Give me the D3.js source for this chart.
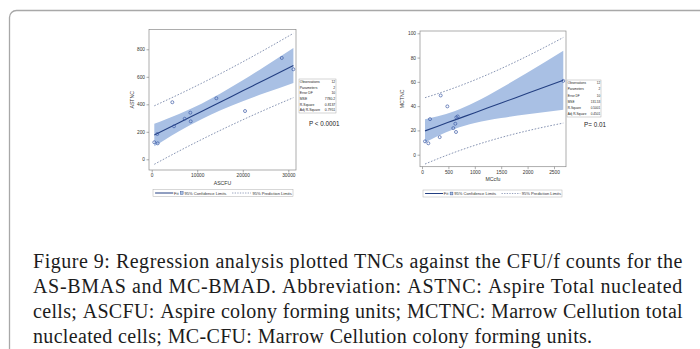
<!DOCTYPE html>
<html>
<head>
<meta charset="utf-8">
<script src="https://cdn.jsdelivr.net/npm/d3@7"></script>
<style>
  html, body { margin: 0; padding: 0; background: #fff; }
  svg { display: block; }
</style>
</head>
<body>
<div id="chart"></div>
<script>
// ---- left panel: ASCFU vs ASTNC ----
const asCfu = [570, 1320, 1230, 4530, 4900, 7250, 8490, 8570, 14200, 20500, 28570, 31120];
const asTnc = [124, 116, 184, 415, 240, 295, 339, 276, 444, 351, 737, 655];
const asGridX = [570, 3000, 6000, 10937, 15000, 20000, 25000, 31120];
const asFit = [176.3, 216.6, 266.3, 348.0, 415.3, 498.1, 580.9, 682.3];
const asClmLo = [94.9, 144.4, 203.1, 291.3, 354.1, 421.8, 483.5, 555.2];
const asClmHi = [257.7, 288.8, 329.5, 404.7, 476.5, 574.4, 678.3, 809.4];
const asPlmLo = [-36.4, 7.2, 59.9, 143.5, 209.5, 287.3, 361.6, 448.3];
const asPlmHi = [389.0, 426.0, 472.7, 552.5, 621.1, 708.9, 800.2, 916.3];
const asXTicks = [0, 10000, 20000, 30000];
const asYTicks = [0, 200, 400, 600, 800];
const asStatValues = ['12', '2', '10', '7780.2', '0.8137', '0.7951'];

// ---- right panel: MCcfu vs MCTNC ----
const mcCfu = [57, 120, 152, 335, 354, 480, 593, 631, 644, 650, 676, 2676];
const mcTnc = [11.0, 9.4, 29.3, 14.5, 48.8, 39.8, 21.9, 25.5, 18.7, 30.7, 31.5, 60.8];
const mcGridX = [57, 300, 614, 1000, 1500, 2000, 2676];
const mcFit = [19.63, 23.49, 28.49, 34.63, 42.59, 50.54, 61.30];
const mcClmLo = [9.96, 15.32, 21.11, 26.08, 30.21, 33.34, 37.03];
const mcClmHi = [29.30, 31.66, 35.87, 43.18, 54.97, 67.74, 85.57];
const mcPlmLo = [-7.69, -3.34, 1.90, 7.69, 14.20, 19.74, 26.06];
const mcPlmHi = [46.95, 50.32, 55.08, 61.57, 70.98, 81.34, 96.54];
const mcXTicks = [0, 500, 1000, 1500, 2000, 2500];
const mcYTicks = [0, 20, 40, 60, 80, 100];
const mcStatValues = ['12', '2', '10', '131.53', '0.5001', '0.4501'];

const statLabels = ['Observations', 'Parameters', 'Error DF', 'MSE', 'R-Square', 'Adj R-Square'];
const legendLabels = ['Fit', '95% Confidence Limits', '95% Prediction Limits'];

const captionLines = [
  'Figure 9: Regression analysis plotted TNCs against the CFU/f counts for the',
  'AS-BMAS and MC-BMAD. Abbreviation: ASTNC: Aspire Total nucleated',
  'cells; ASCFU: Aspire colony forming units; MCTNC: Marrow Cellution total',
  'nucleated cells; MC-CFU: Marrow Cellution colony forming units.'
];

const W = 700, H = 349;
const fillBand = '#a9c0e4';
const fitColor = '#233f82';
const markColor = '#3c5aa5';
const predColor = '#6878a0';
const sans = 'Liberation Sans, Arial, sans-serif';

const svg = d3.select('#chart').append('svg')
  .attr('width', W)
  .attr('height', H);

// outer panel frame (rounded, runs off the page)
svg.append('rect')
  .attr('x', 9.5).attr('y', 10.5)
  .attr('width', 900).attr('height', 600)
  .attr('rx', 7)
  .attr('fill', '#fff')
  .attr('stroke', '#a8a8a8')
  .attr('stroke-width', 1.3);

function drawPanel(p) {
  const g = svg.append('g');
  const x = d3.scaleLinear().domain(p.xDom).range(p.xRange);
  const y = d3.scaleLinear().domain(p.yDom).range(p.yRange);

  const band = p.gridX.map((d, i) => ({ x: d, lo: p.clmLo[i], hi: p.clmHi[i], fit: p.fit[i], plo: p.plmLo[i], phi: p.plmHi[i] }));

  g.append('path')
    .datum(band)
    .attr('fill', fillBand)
    .attr('d', d3.area().curve(d3.curveMonotoneX)
      .x(d => x(d.x)).y0(d => y(d.lo)).y1(d => y(d.hi)));

  const line = key => d3.line().curve(d3.curveMonotoneX).x(d => x(d.x)).y(d => y(d[key]));
  ['plo', 'phi'].forEach(k => {
    g.append('path')
      .datum(band)
      .attr('fill', 'none')
      .attr('stroke', predColor)
      .attr('stroke-width', 0.8)
      .attr('stroke-dasharray', '1.6,1.6')
      .attr('d', line(k));
  });

  g.append('path')
    .datum(band)
    .attr('fill', 'none')
    .attr('stroke', fitColor)
    .attr('stroke-width', 1.1)
    .attr('d', line('fit'));

  g.selectAll('circle.pt')
    .data(p.xs.map((d, i) => [d, p.ys[i]]))
    .enter().append('circle')
    .attr('class', 'pt')
    .attr('cx', d => x(d[0]))
    .attr('cy', d => y(d[1]))
    .attr('r', 1.5)
    .attr('fill', 'none')
    .attr('stroke', markColor)
    .attr('stroke-width', 0.7);

  // frame border
  g.append('rect')
    .attr('x', p.frame[0]).attr('y', p.frame[1])
    .attr('width', p.frame[2] - p.frame[0]).attr('height', p.frame[3] - p.frame[1])
    .attr('fill', 'none')
    .attr('stroke', '#8a8a8a')
    .attr('stroke-width', 0.7);

  // axes
  const fmt = d3.format('d');
  const xAxis = g.append('g')
    .attr('transform', `translate(0,${p.frame[3]})`)
    .call(d3.axisBottom(x).tickValues(p.xTicks).tickFormat(fmt).tickSize(2.5).tickPadding(1.5));
  const yAxis = g.append('g')
    .attr('transform', `translate(${p.frame[0]},0)`)
    .call(d3.axisLeft(y).tickValues(p.yTicks).tickFormat(fmt).tickSize(2.5).tickPadding(1.5));
  [xAxis, yAxis].forEach(a => {
    a.select('.domain').remove();
    a.selectAll('.tick line').attr('stroke', '#777').attr('stroke-width', 0.6);
    a.selectAll('.tick text').attr('fill', '#333').style('font-family', sans).style('font-size', '4.8px');
  });

  g.append('text')
    .attr('x', (p.frame[0] + p.frame[2]) / 2)
    .attr('y', p.frame[3] + 14.5)
    .attr('text-anchor', 'middle')
    .style('font-family', sans).style('font-size', '5.2px').attr('fill', '#333')
    .text(p.xLabel);
  g.append('text')
    .attr('transform', `translate(${p.yLabelX},${(p.frame[1] + p.frame[3]) / 2}) rotate(-90)`)
    .attr('text-anchor', 'middle')
    .style('font-family', sans).style('font-size', '5.2px').attr('fill', '#333')
    .text(p.yLabel);

  // legend
  const lg = p.legend;
  const lw = lg[2] - lg[0];
  const ly = (lg[1] + lg[3]) / 2;
  const lgG = g.append('g');
  lgG.append('rect')
    .attr('x', lg[0]).attr('y', lg[1])
    .attr('width', lw).attr('height', lg[3] - lg[1])
    .attr('fill', '#fff').attr('stroke', '#b0b0b0').attr('stroke-width', 0.5);
  const fx = f => lg[0] + f * lw;
  lgG.append('line')
    .attr('x1', fx(0.015)).attr('x2', fx(0.145)).attr('y1', ly).attr('y2', ly)
    .attr('stroke', fitColor).attr('stroke-width', 1);
  lgG.append('rect')
    .attr('x', fx(0.195)).attr('y', ly - 1.4).attr('width', 2.8).attr('height', 2.8)
    .attr('fill', fillBand).attr('stroke', fitColor).attr('stroke-width', 0.4);
  lgG.append('line')
    .attr('x1', fx(0.565)).attr('x2', fx(0.7)).attr('y1', ly).attr('y2', ly)
    .attr('stroke', predColor).attr('stroke-width', 0.7).attr('stroke-dasharray', '1.3,1.3');
  [[0.15, legendLabels[0]], [0.225, legendLabels[1]], [0.71, legendLabels[2]]].forEach(t => {
    lgG.append('text')
      .attr('x', fx(t[0])).attr('y', ly + 1.5)
      .style('font-family', sans).style('font-size', '4.1px').attr('fill', '#333')
      .text(t[1]);
  });

  // stats inset
  const st = p.stats;
  const rowH = (st[3] - st[1]) / statLabels.length;
  const sg = g.append('g');
  sg.append('rect')
    .attr('x', st[0]).attr('y', st[1])
    .attr('width', st[2] - st[0]).attr('height', st[3] - st[1])
    .attr('fill', '#fff').attr('stroke', '#aaa').attr('stroke-width', 0.5);
  statLabels.forEach((lab, i) => {
    const by = st[1] + rowH * (i + 0.5) + 1.2;
    sg.append('text').attr('x', st[0] + 0.8).attr('y', by)
      .style('font-family', sans).style('font-size', p.statFont).attr('fill', '#222').text(lab);
    sg.append('text').attr('x', st[2] - 0.8).attr('y', by).attr('text-anchor', 'end')
      .style('font-family', sans).style('font-size', p.statFont).attr('fill', '#222').text(p.statValues[i]);
  });

  g.append('text')
    .attr('x', p.pText[0]).attr('y', p.pText[1])
    .style('font-family', sans).style('font-size', '6.3px').attr('fill', '#222')
    .text(p.pLabel);
}

drawPanel({
  xs: asCfu, ys: asTnc, gridX: asGridX, fit: asFit,
  clmLo: asClmLo, clmHi: asClmHi, plmLo: asPlmLo, plmHi: asPlmHi,
  xDom: [0, 30000], xRange: [151.7, 288.3],
  yDom: [0, 800], yRange: [159.3, 49.3],
  frame: [149, 29.5, 296, 170],
  xTicks: asXTicks, yTicks: asYTicks,
  xLabel: 'ASCFU', yLabel: 'ASTNC', yLabelX: 133.5,
  legend: [153, 189.5, 293, 196.5],
  stats: [299, 79, 336, 113], statValues: asStatValues, statFont: '3.4px',
  pText: [309, 126], pLabel: 'P < 0.0001'
});

drawPanel({
  xs: mcCfu, ys: mcTnc, gridX: mcGridX, fit: mcFit,
  clmLo: mcClmLo, clmHi: mcClmHi, plmLo: mcPlmLo, plmHi: mcPlmHi,
  xDom: [0, 2500], xRange: [422, 554],
  yDom: [0, 100], yRange: [154.7, 33.3],
  frame: [420, 31, 566, 166.7],
  xTicks: mcXTicks, yTicks: mcYTicks,
  xLabel: 'MCcfu', yLabel: 'MCTNC', yLabelX: 404,
  legend: [423, 190, 562, 197],
  stats: [567, 80, 601, 117], statValues: mcStatValues, statFont: '3.1px',
  pText: [584, 127], pLabel: 'P= 0.01'
});

// caption: justified lines (last one left aligned); letter spacing widens the
// narrower substitute serif so word gaps stay close to the original
const capLeft = 33, capRight = 683, capTop = 268, capLead = 25, wordGap = 5.5;
const capG = svg.append('g')
  .style('font-family', 'Liberation Serif, Times New Roman, serif')
  .style('font-size', '20px')
  .attr('fill', '#1c1c1c');
let lastLs = 0.6;
captionLines.forEach((line, li) => {
  const words = line.split(' ');
  const by = capTop + li * capLead;
  const nodes = words.map(w => capG.append('text').attr('y', by).text(w));
  const widths = nodes.map(n => n.node().getComputedTextLength());
  const chars = words.map(w => w.length);
  const nChars = d3.sum(chars);
  const last = li === captionLines.length - 1;
  let ls = lastLs;
  if (!last) {
    ls = (capRight - capLeft - d3.sum(widths) - wordGap * (words.length - 1)) / nChars;
    ls = Math.max(0, Math.min(1.0, ls));
    lastLs = ls;
  }
  const full = widths.map((w, i) => w + ls * chars[i]);
  const gap = last ? wordGap : (capRight - capLeft - d3.sum(full)) / (words.length - 1);
  let cx = capLeft;
  nodes.forEach((n, i) => {
    n.attr('x', cx).style('letter-spacing', ls + 'px');
    cx += full[i] + gap;
  });
});
</script>
</body>
</html>
